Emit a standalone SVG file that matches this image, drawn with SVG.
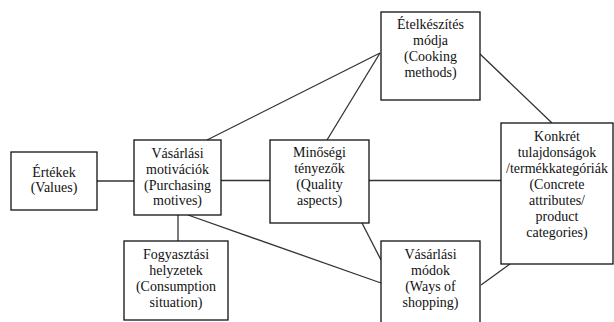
<svg xmlns="http://www.w3.org/2000/svg" width="614" height="322" viewBox="0 0 614 322">
<style>
.box{fill:#fff;stroke:#111;stroke-width:1.3}
.c line{stroke:#333;stroke-width:1.3}
text{font-family:"Liberation Serif","Times New Roman",serif;font-size:14px;fill:#111;text-anchor:middle}
</style>
<rect width="614" height="322" fill="#fff"/>
<g class="c" id="connectors">
<line x1="97" y1="181" x2="134" y2="181"/>
<line x1="221" y1="180.5" x2="270" y2="180.5"/>
<line x1="369" y1="180.5" x2="501" y2="180.5"/>
<line x1="178" y1="215" x2="178" y2="241"/>
<line x1="188" y1="215" x2="381" y2="283"/>
<line x1="207" y1="140" x2="380" y2="53"/>
<line x1="327" y1="140" x2="380" y2="53"/>
<line x1="480" y1="54" x2="552" y2="123"/>
<line x1="362" y1="223" x2="381" y2="260"/>
<line x1="481" y1="285" x2="510" y2="264"/>
</g>
<g id="ertekek">
<rect class="box" x="11" y="152" width="86" height="58"/>
<text x="54" y="177">Értékek</text>
<text x="54" y="192">(Values)</text>
</g>
<g id="vasarlasi-motivaciok">
<rect class="box" x="134" y="140" width="87" height="75"/>
<text x="177.5" y="158">Vásárlási</text>
<text x="177.5" y="174">motivációk</text>
<text x="177.5" y="190">(Purchasing</text>
<text x="177.5" y="205">motives)</text>
</g>
<g id="fogyasztasi-helyzetek">
<rect class="box" x="124" y="241" width="104" height="79"/>
<text x="176" y="259">Fogyasztási</text>
<text x="176" y="275">helyzetek</text>
<text x="176" y="291">(Consumption</text>
<text x="176" y="307">situation)</text>
</g>
<g id="etelkeszites-modja">
<rect class="box" x="381" y="12" width="99" height="88"/>
<text x="430.5" y="29">Ételkészítés</text>
<text x="430.5" y="45">módja</text>
<text x="430.5" y="61">(Cooking</text>
<text x="430.5" y="77">methods)</text>
</g>
<g id="minosegi-tenyezok">
<rect class="box" x="270" y="140" width="99" height="83"/>
<text x="319.5" y="157">Minőségi</text>
<text x="319.5" y="173">tényezők</text>
<text x="319.5" y="189">(Quality</text>
<text x="319.5" y="205">aspects)</text>
</g>
<g id="konkret-tulajdonsagok">
<rect class="box" x="501" y="123" width="112" height="141"/>
<text x="557" y="141">Konkrét</text>
<text x="557" y="157">tulajdonságok</text>
<text x="557" y="173">/termékkategóriák</text>
<text x="557" y="189">(Concrete</text>
<text x="557" y="205">attributes/</text>
<text x="557" y="221">product</text>
<text x="557" y="237">categories)</text>
</g>
<g id="vasarlasi-modok">
<rect class="box" x="381" y="241" width="99" height="84"/>
<text x="430.5" y="259">Vásárlási</text>
<text x="430.5" y="275">módok</text>
<text x="430.5" y="291">(Ways of</text>
<text x="430.5" y="307">shopping)</text>
</g>
</svg>
